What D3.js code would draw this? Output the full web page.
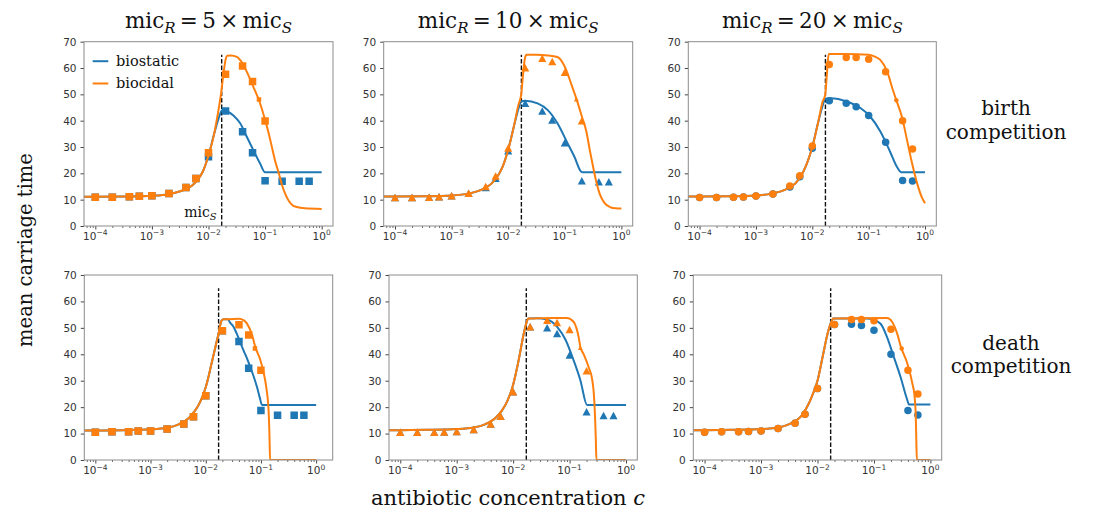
<!DOCTYPE html>
<html><head><meta charset="utf-8">
<script src="https://cdn.jsdelivr.net/npm/d3@7"></script>
<style>body{margin:0;background:#fff} svg{display:block}</style>
</head><body><svg id="chart" width="1093" height="512"></svg>
<script>
// ---------------- DATA ----------------
const concentrations = [1e-4, 2e-4, 4e-4, 6e-4, 1e-3, 2e-3, 4e-3, 6e-3, 1e-2, 2e-2, 4e-2, 6e-2, 1e-1, 2e-1, 4e-1, 6e-1];
const yTickValues = [0, 10, 20, 30, 40, 50, 60, 70];
const xTickExponents = [-4, -3, -2, -1, 0];
const seriesNames = ["biostatic", "biocidal"];
const micRFactors = ["5", "10", "20"];
const rowLabels = [["birth", "competition"], ["death", "competition"]];
const micS = 0.0171;

// simulation points (mean carriage time)
const birth5Biostatic  = [10.9,10.9,11.1,11.3,11.5,12.3,14.6,18.0,26.3,43.7,35.8,27.8,17.2,17.0,17.0,17.0];
const birth5Biocidal   = [10.9,10.9,11.1,11.3,11.5,12.3,14.6,18.0,27.8,57.6,60.8,54.9,39.9,null,null,null];
const birth10Biostatic = [10.8,10.8,10.9,11.1,11.5,12.4,14.6,18.1,28.6,46.6,43.7,40.3,31.6,17.2,16.8,16.8];
const birth10Biocidal  = [10.8,10.8,10.9,11.1,11.5,12.4,15.0,19.0,29.6,60.1,63.7,62.5,58.4,40.0,null,null];
const birth20Biostatic = [10.8,10.8,10.9,11.0,11.4,12.2,14.8,18.7,29.5,47.6,46.6,45.3,42.0,31.8,17.3,17.1];
const birth20Biocidal  = [10.8,10.8,10.9,11.0,11.4,12.2,15.2,19.1,30.4,61.3,64.0,64.0,63.3,58.6,40.0,29.2];
const death5Biostatic  = [10.5,10.7,10.7,11.0,11.0,11.7,13.6,16.4,24.3,48.9,44.8,34.7,18.7,16.9,16.9,16.9];
const death5Biocidal   = [10.5,10.7,10.7,11.0,11.0,11.7,13.6,16.4,24.3,48.9,51.2,47.3,34.0,null,null,null];
const death10Biostatic = [10.5,10.5,10.5,10.6,10.8,11.5,13.6,16.6,25.8,50.4,50.0,47.9,39.7,18.3,16.8,16.8];
const death10Biocidal  = [10.5,10.5,10.5,10.6,10.8,11.5,13.6,16.6,25.8,50.4,52.9,52.0,49.4,33.8,null,null];
const death20Biostatic = [10.5,10.7,10.7,10.8,11.0,11.9,13.9,17.3,27.1,51.3,51.4,50.9,49.1,40.0,18.7,17.0];
const death20Biocidal  = [10.5,10.7,10.7,10.8,11.0,11.9,13.9,17.3,27.1,51.3,53.2,53.2,52.7,49.5,34.0,25.0];

// biocidal point at mic_R
const birthMicRPoints = [[0.078, 48.0], [0.16, 48.1], [0.31, 47.8]];
const deathMicRPoints = [[0.078, 42.2], [0.155, 42.5], [0.31, 42.2]];

// theory curves: [log10 c, mean carriage time]
const riseBirth5 = [[-4.2,11.1],[-4,11.1],[-3.5,11.2],[-3,11.5],[-2.7,12.1],[-2.5,13.2],[-2.3,15.2],[-2.2,17.3],[-2.1,20.7],[-2.0,26.8],[-1.9,35]];
const curveBirth5Biostatic = [[-1.82,41],[-1.76,44],[-1.68,43.6],[-1.56,42],[-1.44,39],[-1.33,34.2],[-1.21,28.9],[-1.09,23.8],[-1.0,20.4],[0,20.4]];
const curveBirth5Biocidal = [[-1.84,42],[-1.78,50],[-1.74,57],[-1.7,63],[-1.67,64.7],[-1.6,64.8],[-1.5,64.2],[-1.4,61.8],[-1.3,57.5],[-1.2,52.5],[-1.1,47.3],[-1.0,40.3],[-0.94,35.5],[-0.88,30],[-0.82,24.5],[-0.76,20.2],[-0.7,15.5],[-0.64,12],[-0.58,9.5],[-0.52,8],[-0.44,7.2],[-0.3,6.7],[0,6.5]];
const riseBirth10 = [[-4.2,11.2],[-4,11.2],[-3.5,11.3],[-3,11.6],[-2.7,12.3],[-2.5,13.5],[-2.3,16],[-2.2,18.5],[-2.1,22.5],[-2.0,29],[-1.9,37.8]];
const curveBirth10Biostatic = [[-1.82,44.5],[-1.77,47.3],[-1.7,47.6],[-1.48,46.6],[-1.3,44],[-1.13,39],[-0.95,31.4],[-0.83,26.3],[-0.71,20.6],[-0.69,20.4],[0,20.4]];
const curveBirth10Biocidal = [[-1.82,46],[-1.77,50],[-1.74,57],[-1.71,63],[-1.68,65],[-1.5,65],[-1.3,64.8],[-1.13,64.2],[-1.0,60.5],[-0.89,54.2],[-0.79,48],[-0.69,41],[-0.62,36],[-0.56,29],[-0.5,22.5],[-0.44,16.5],[-0.38,12],[-0.3,8.8],[-0.2,7.2],[-0.1,6.7],[0,6.6]];
const riseBirth20 = [[-4.2,11.2],[-4,11.2],[-3.5,11.3],[-3,11.6],[-2.7,12.4],[-2.5,13.6],[-2.3,16.2],[-2.2,19],[-2.1,23.5],[-2.0,30],[-1.9,39]];
const curveBirth20Biostatic = [[-1.82,45.5],[-1.77,48.3],[-1.68,48.5],[-1.38,47.2],[-1.14,44.7],[-0.97,41.5],[-0.79,35.8],[-0.62,28.2],[-0.5,22.5],[-0.42,20.4],[0,20.4]];
const curveBirth20Biocidal = [[-1.82,47],[-1.77,50],[-1.74,58],[-1.71,65.3],[-1.4,65.3],[-1.0,65],[-0.91,64.5],[-0.79,63],[-0.67,58.6],[-0.58,52.3],[-0.51,47.8],[-0.41,41.5],[-0.32,32.7],[-0.23,23.8],[-0.14,16.2],[-0.06,11.1],[0,8.6]];
const riseDeath5 = [[-4.2,11.2],[-4,11.2],[-3.5,11.3],[-3,11.6],[-2.7,12.2],[-2.5,13.4],[-2.3,16],[-2.2,18.5],[-2.1,22],[-2.0,27.5],[-1.9,36],[-1.8,45],[-1.76,48.5],[-1.72,52.5],[-1.68,53.3],[-1.6,53.3]];
const curveDeath5Biostatic = [[-1.56,52],[-1.5,50.5],[-1.44,47.9],[-1.38,44.8],[-1.31,41.2],[-1.25,38.3],[-1.19,35],[-1.13,31.5],[-1.07,27.5],[-1.02,23.5],[-0.98,20.8],[0,20.8]];
const curveDeath5Biocidal = [[-1.4,53.4],[-1.31,52.8],[-1.25,51.5],[-1.16,47.3],[-1.1,42.6],[-1.01,37.8],[-0.95,33],[-0.9,27],[-0.86,18],[-0.845,9],[-0.835,0],[0,0]];
const riseDeath10 = [[-4.2,11.3],[-4,11.3],[-3.5,11.4],[-3,11.7],[-2.7,12.3],[-2.5,13.5],[-2.3,16.2],[-2.2,18.7],[-2.1,22.5],[-2.0,28.5],[-1.9,38],[-1.82,47],[-1.77,51.5],[-1.73,53.5],[-1.58,53.6]];
const curveDeath10Biostatic = [[-1.4,53.2],[-1.22,50.4],[-1.07,45.4],[-0.93,37.8],[-0.81,30.3],[-0.69,20.8],[0,20.8]];
const curveDeath10Biocidal = [[-1.3,53.7],[-1.05,53.7],[-0.93,52.3],[-0.88,50],[-0.84,46.6],[-0.81,42.8],[-0.75,40],[-0.66,35],[-0.6,30.5],[-0.57,25],[-0.55,17],[-0.535,8],[-0.525,0],[0,0]];
const riseDeath20 = [[-4.2,11.3],[-4,11.3],[-3.5,11.4],[-3,11.7],[-2.7,12.3],[-2.5,13.6],[-2.3,16.3],[-2.2,19.5],[-2.1,24],[-2.0,30],[-1.9,40],[-1.82,48],[-1.77,51.5],[-1.72,53.5]];
const curveDeath20Biostatic = [[-1.12,53.5],[-0.89,51.7],[-0.77,46.6],[-0.65,39.1],[-0.53,31.5],[-0.41,22.7],[-0.38,21],[0,21]];
const curveDeath20Biocidal = [[-0.77,53.7],[-0.68,52.3],[-0.59,47.9],[-0.52,42.6],[-0.41,36.6],[-0.32,29],[-0.28,24],[-0.26,17],[-0.25,8],[-0.24,0],[0,0]];

// ---------------- LAYOUT ----------------
const colors = {biostatic: "#1f77b4", biocidal: "#ff7f0e"};
const serif = "'DejaVu Serif', serif";
const sans = "'DejaVu Sans', sans-serif";

const panels = [
  {x:84,    y:41.7, w:249,   h:184.3, xExp:[-4.2,0.2], marker:"square",   pts:[birth5Biostatic, birth5Biocidal],   curves:[riseBirth5.concat(curveBirth5Biostatic), riseBirth5.concat(curveBirth5Biocidal)], micR: birthMicRPoints[0], legend:true, micLabel:true},
  {x:383.7, y:41.7, w:249,   h:184.3, xExp:[-4.2,0.2], marker:"triangle", pts:[birth10Biostatic, birth10Biocidal], curves:[riseBirth10.concat(curveBirth10Biostatic), riseBirth10.concat(curveBirth10Biocidal)], micR: birthMicRPoints[1]},
  {x:688.3, y:41.7, w:248,   h:184.3, xExp:[-4.2,0.2], marker:"circle",   pts:[birth20Biostatic, birth20Biocidal], curves:[riseBirth20.concat(curveBirth20Biostatic), riseBirth20.concat(curveBirth20Biocidal)], micR: birthMicRPoints[2]},
  {x:84.3,  y:275,  w:248.4, h:185,   xExp:[-4.2,0.3], marker:"square",   pts:[death5Biostatic, death5Biocidal],   curves:[riseDeath5.concat(curveDeath5Biostatic), riseDeath5.concat(curveDeath5Biocidal)], micR: deathMicRPoints[0]},
  {x:389,   y:275,  w:248.3, h:185,   xExp:[-4.2,0.2], marker:"triangle", pts:[death10Biostatic, death10Biocidal], curves:[riseDeath10.concat(curveDeath10Biostatic), riseDeath10.concat(curveDeath10Biocidal)], micR: deathMicRPoints[1]},
  {x:693.3, y:275,  w:248.4, h:185,   xExp:[-4.2,0.2], marker:"circle",   pts:[death20Biostatic, death20Biocidal], curves:[riseDeath20.concat(curveDeath20Biostatic), riseDeath20.concat(curveDeath20Biocidal)], micR: deathMicRPoints[2]},
];

function markerPath(type, s) {
  if (type === "square") return `M${-s/2},${-s/2}h${s}v${s}h${-s}Z`;
  if (type === "triangle") { const w = s*1.08, h = s; return `M0,${-h/2}L${w/2},${h/2}L${-w/2},${h/2}Z`; }
  return d3.symbol(d3.symbolCircle, Math.PI*(s/2)*(s/2))();
}

const svg = d3.select("#chart");
svg.append("rect").attr("width",1093).attr("height",512).attr("fill","#fff");

panels.forEach((p, i) => {
  const g = svg.append("g").attr("transform", `translate(${p.x},${p.y})`);
  const x = d3.scaleLog().domain([Math.pow(10,p.xExp[0]), Math.pow(10,p.xExp[1])]).range([0, p.w]);
  const y = d3.scaleLinear().domain([0, 70]).range([p.h, 0]);
  const clipId = "clip" + i;
  g.append("clipPath").attr("id", clipId).append("rect").attr("width", p.w).attr("height", p.h);

  // y axis
  const ya = g.append("g").call(d3.axisLeft(y).tickValues(yTickValues).tickSize(3.5).tickPadding(4));
  ya.select(".domain").remove();
  ya.selectAll("line").attr("stroke","#444");
  ya.selectAll("text").attr("font-family", sans).attr("font-size", 10.5).attr("fill", "#333");

  // x axis majors
  const majors = xTickExponents.map(e => Math.pow(10, e));
  const xa = g.append("g").attr("transform", `translate(0,${p.h})`)
    .call(d3.axisBottom(x).tickValues(majors).tickSize(3.5).tickFormat(""));
  xa.select(".domain").remove();
  xa.selectAll("line").attr("stroke","#444");
  // minors
  const minors = [];
  for (let k = -5; k <= 0; k++) for (let m = 2; m <= 9; m++) {
    const v = m * Math.pow(10, k);
    if (v >= x.domain()[0] && v <= x.domain()[1]) minors.push(v);
  }
  const xm = g.append("g").attr("transform", `translate(0,${p.h})`)
    .call(d3.axisBottom(x).tickValues(minors).tickSize(2).tickFormat(""));
  xm.select(".domain").remove();
  xm.selectAll("line").attr("stroke","#444").attr("stroke-width",0.8);
  // major labels 10^k
  xTickExponents.forEach(e => {
    const t = g.append("text").attr("x", x(Math.pow(10,e))).attr("y", p.h + 14)
      .attr("text-anchor","middle").attr("font-family", sans).attr("font-size", 10.5).attr("fill","#333");
    t.append("tspan").text("10");
    t.append("tspan").attr("dy", -4.5).attr("font-size", 7.5).text(e < 0 ? "\u2212" + Math.abs(e) : String(e));
  });

  const line = d3.line().x(d => x(Math.pow(10, d[0]))).y(d => y(d[1])).curve(d3.curveMonotoneX);
  const body = g.append("g").attr("clip-path", `url(#${clipId})`);

  // dashed mic_S line
  body.append("line").attr("x1", x(micS)).attr("x2", x(micS)).attr("y1", y(0)).attr("y2", y(65))
    .attr("stroke","#111").attr("stroke-width",1.4).attr("stroke-dasharray","4.5,2");

  seriesNames.forEach((name, si) => {
    body.append("path").datum(p.curves[si]).attr("d", line).attr("fill","none")
      .attr("stroke", colors[name]).attr("stroke-width", 2).attr("stroke-linejoin","round");
    const pts = concentrations.map((c, j) => [c, p.pts[si][j]]).filter(d => d[1] !== null);
    body.selectAll(null).data(pts).enter().append("path")
      .attr("d", markerPath(p.marker, 7.5))
      .attr("transform", d => `translate(${x(d[0])},${y(d[1])})`)
      .attr("fill", colors[name]);
    if (name === "biocidal") {
      body.append("path").attr("d", markerPath(p.marker, 4.5))
        .attr("transform", `translate(${x(p.micR[0])},${y(p.micR[1])})`).attr("fill", colors[name]);
    }
  });

  // frame
  g.append("rect").attr("width", p.w).attr("height", p.h).attr("fill","none")
    .attr("stroke","#8c8c8c").attr("stroke-width",1);

  if (p.legend) {
    seriesNames.forEach((name, si) => {
      const ly = 19.5 + si * 22.3;
      g.append("line").attr("x1", 8.7).attr("x2", 24.3).attr("y1", ly).attr("y2", ly)
        .attr("stroke", colors[name]).attr("stroke-width", 2);
      g.append("text").attr("x", 32).attr("y", ly + 5).attr("font-family", serif)
        .attr("font-size", 14.5).attr("fill","#111").text(name);
    });
  }
  if (p.micLabel) {
    const t = g.append("text").attr("x", x(micS) - 5).attr("y", y(3.6)).attr("text-anchor","end")
      .attr("font-family", serif).attr("font-size", 14).attr("fill","#111");
    t.append("tspan").text("mic");
    t.append("tspan").attr("dy", 3.5).attr("font-size", 10).attr("font-style","italic").text("S");
  }

  // column titles
  if (i < 3) {
    const t = svg.append("text").attr("x", p.x + p.w/2).attr("y", 28.3).attr("text-anchor","middle")
      .attr("font-family", serif).attr("font-size", 21.5).attr("fill","#111");
    t.append("tspan").text("mic");
    t.append("tspan").attr("dy", 4.5).attr("font-size", 15).attr("font-style","italic").text("R");
    t.append("tspan").attr("dy", -4.5).text("\u2009=\u2009" + micRFactors[i] + "\u2009\u00d7\u2009mic");
    t.append("tspan").attr("dy", 4.5).attr("font-size", 15).attr("font-style","italic").text("S");
  }
});

// row labels (two lines each)
const rowLabelPos = [{x:1006, y:[115, 138.5]}, {x:1011, y:[349.5, 373]}];
rowLabels.forEach((lines, r) => {
  lines.forEach((s, k) => {
    svg.append("text").attr("x", rowLabelPos[r].x).attr("y", rowLabelPos[r].y[k]).attr("text-anchor","middle")
      .attr("font-family", serif).attr("font-size", 20).attr("fill","#111").text(s);
  });
});

// axis labels
svg.append("text").attr("transform","translate(31.5,250) rotate(-90)").attr("text-anchor","middle")
  .attr("font-family", serif).attr("font-size", 19.5).attr("fill","#111").text("mean carriage time");
const xl = svg.append("text").attr("x", 508).attr("y", 505).attr("text-anchor","middle")
  .attr("font-family", serif).attr("font-size", 21).attr("fill","#111");
xl.append("tspan").text("antibiotic concentration ");
xl.append("tspan").attr("font-style","italic").text("c");
</script></body></html>
